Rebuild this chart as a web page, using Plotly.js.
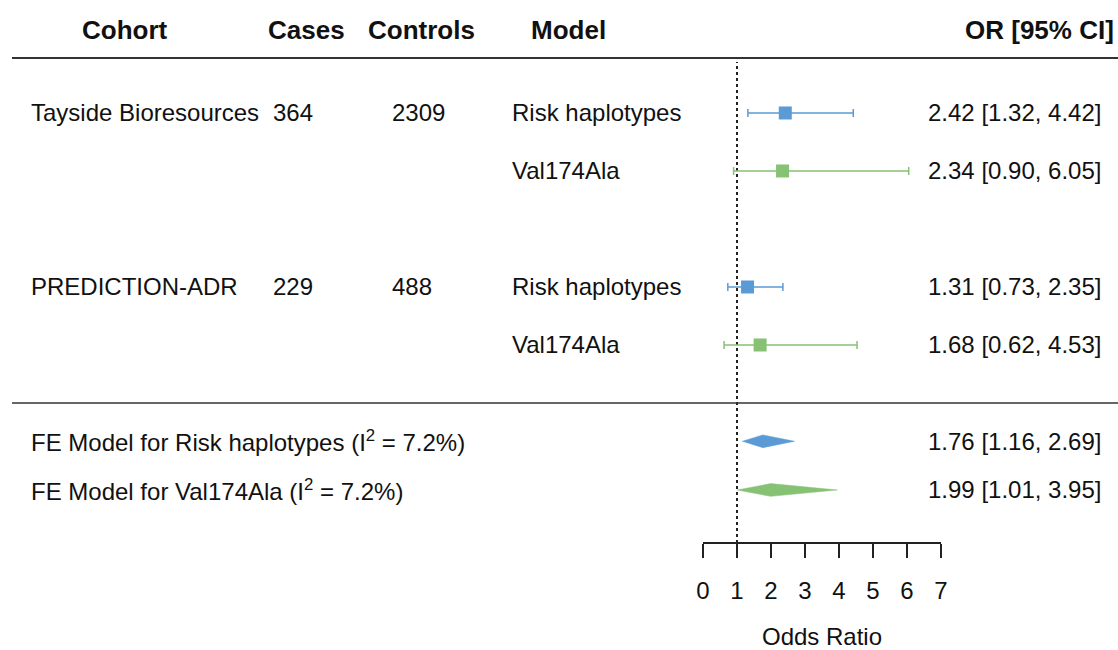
<!DOCTYPE html>
<html>
<head>
<meta charset="utf-8">
<script src="https://cdn.plot.ly/plotly-3.0.1.min.js"></script>
<style>html,body{margin:0;padding:0;background:#fff;}#chart{width:1118px;height:650px;}</style>
</head>
<body>
<div id="chart"></div>
<script>
// ---- data ----
const cohorts = ['Tayside Bioresources', 'PREDICTION-ADR'];
const cases = [364, 229];
const controls = [2309, 488];
const models = ['Risk haplotypes', 'Val174Ala'];
const orRisk = [2.42, 1.31];
const loRisk = [1.32, 0.73];
const hiRisk = [4.42, 2.35];
const orVal = [2.34, 1.68];
const loVal = [0.90, 0.62];
const hiVal = [6.05, 4.53];
const feLabels = ['FE Model for Risk haplotypes (I<sup>2</sup> = 7.2%)', 'FE Model for Val174Ala (I<sup>2</sup> = 7.2%)'];
const feOR = [1.76, 1.99];
const feLo = [1.16, 1.01];
const feHi = [2.69, 3.95];
const xTicks = [0, 1, 2, 3, 4, 5, 6, 7];
const headers = ['Cohort', 'Cases', 'Controls', 'Model', 'OR [95% CI]'];

// ---- layout config (positions / styles) ----
const W = 1118, H = 650;
const blue = '#5b9bd5', green = '#86c174';
const rowsRisk = [9, 6], rowsVal = [8, 5];
const rowsFE = [3.34, 2.5];
const headerRow = 10.43;
const yRange = [-0.259, 10.948];
const font = 'Liberation Sans, Arial, Helvetica, sans-serif';
const fs = 24, hfs = 26;
const px = v => v / W;
const fmt = (e, l, h) => e.toFixed(2) + ' [' + l.toFixed(2) + ', ' + h.toFixed(2) + ']';

const traces = [];
function studyTrace(est, lo, hi, rows, color) {
  return {
    type: 'scatter', mode: 'markers', x: est, y: rows, cliponaxis: false,
    marker: {symbol: 'square', size: 13, color: color},
    error_x: {type: 'data', symmetric: false,
      array: est.map((e, i) => hi[i] - e), arrayminus: est.map((e, i) => e - lo[i]),
      color: color, thickness: 1.5, width: 4},
    hoverinfo: 'skip', showlegend: false
  };
}
traces.push(studyTrace(orRisk, loRisk, hiRisk, rowsRisk, blue));
traces.push(studyTrace(orVal, loVal, hiVal, rowsVal, green));

const dh = 0.11;
[blue, green].forEach((c, i) => {
  traces.push({
    type: 'scatter', mode: 'lines', fill: 'toself', fillcolor: c, cliponaxis: false,
    x: [feLo[i], feOR[i], feHi[i], feOR[i], feLo[i]],
    y: [rowsFE[i], rowsFE[i] + dh, rowsFE[i], rowsFE[i] - dh, rowsFE[i]],
    line: {color: c, width: 0.5}, hoverinfo: 'skip', showlegend: false
  });
});

const ann = [];
function t(text, xpx, y, anchor, bold) {
  ann.push({text: bold ? '<b>' + text + '</b>' : text, x: px(xpx), xref: 'paper', y: y, yref: 'y',
    xanchor: anchor, yanchor: 'middle', showarrow: false,
    font: {family: font, size: bold ? hfs : fs, color: '#111'}});
}
// headers
t(headers[0], 125, headerRow, 'center', true);
t(headers[1], 306, headerRow, 'center', true);
t(headers[2], 422, headerRow, 'center', true);
t(headers[3], 529, headerRow, 'left', true);
t(headers[4], 963, headerRow, 'left', true);
// study rows
cohorts.forEach((c, i) => {
  t(c, 29, rowsRisk[i], 'left');
  t(String(cases[i]), 271, rowsRisk[i], 'left');
  t(String(controls[i]), 390, rowsRisk[i], 'left');
  t(models[0], 510, rowsRisk[i], 'left');
  t(models[1], 510, rowsVal[i], 'left');
  t(fmt(orRisk[i], loRisk[i], hiRisk[i]), 1103, rowsRisk[i], 'right');
  t(fmt(orVal[i], loVal[i], hiVal[i]), 1103, rowsVal[i], 'right');
});
feLabels.forEach((l, i) => {
  t(l, 29, rowsFE[i], 'left');
  t(fmt(feOR[i], feLo[i], feHi[i]), 1103, rowsFE[i], 'right');
});

const axisPos = 107 / H;
const shapes = [
  {type: 'line', xref: 'paper', yref: 'paper', x0: px(12), x1: 1, y0: (H - 58) / H, y1: (H - 58) / H,
   line: {color: '#333', width: 2}},
  {type: 'line', xref: 'paper', yref: 'paper', x0: px(12), x1: 1, y0: (H - 403) / H, y1: (H - 403) / H,
   line: {color: '#333', width: 1.5}},
  {type: 'line', xref: 'x', yref: 'paper', x0: 1, x1: 1, y0: axisPos, y1: (H - 62) / H,
   line: {color: '#222', width: 2, dash: 'dot'}, layer: 'below'}
];

const layout = {
  width: W, height: H,
  margin: {l: 0, r: 0, t: 0, b: 0, pad: 0},
  paper_bgcolor: '#fff', plot_bgcolor: 'rgba(0,0,0,0)',
  showlegend: false,
  font: {family: font, size: fs, color: '#111'},
  xaxis: {
    domain: [px(703), px(941)], range: [0, 7], anchor: 'free', position: axisPos,
    tickvals: xTicks, ticktext: xTicks.map(String), ticks: 'outside', ticklen: 14, tickwidth: 2,
    tickcolor: '#222', showline: true, linewidth: 2, linecolor: '#222',
    showgrid: false, zeroline: false, ticklabelstandoff: 12,
    tickfont: {family: font, size: fs, color: '#111'},
    title: {text: 'Odds Ratio', standoff: 26, font: {family: font, size: fs, color: '#111'}},
    automargin: false, fixedrange: true
  },
  yaxis: {domain: [0, 1], range: yRange, visible: false, fixedrange: true},
  annotations: ann,
  shapes: shapes
};
Plotly.newPlot('chart', traces, layout, {displayModeBar: false, staticPlot: true});
</script>
</body>
</html>
